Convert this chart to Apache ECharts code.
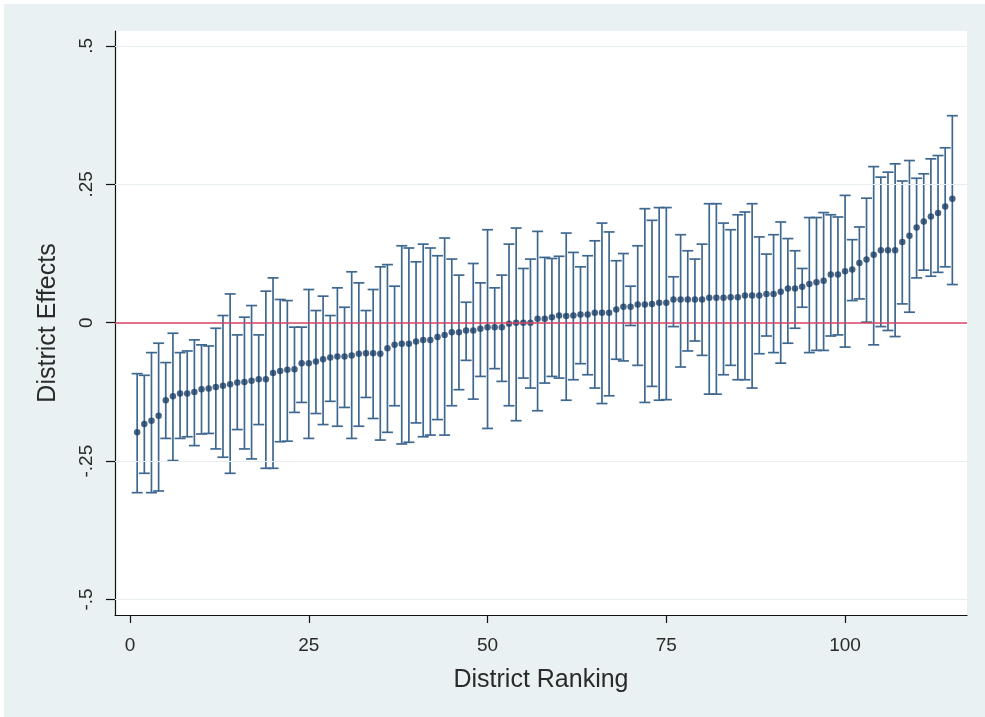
<!DOCTYPE html>
<html>
<head>
<meta charset="utf-8">
<script src="https://cdn.jsdelivr.net/npm/echarts@6/dist/echarts.min.js"></script>
<style>
  html, body { margin: 0; padding: 0; background: #fff; }
  #wrap { position: relative; width: 985px; height: 717px; overflow: hidden; }
  #district-chart { position: absolute; left: 4px; top: 4px; width: 981px; height: 713px; }
</style>
</head>
<body>
<div id="wrap"><div id="district-chart"></div></div>
<script>
'use strict';

// district effect estimates, ordered by rank (1..115)
var effects = [
  -0.198, -0.183, -0.177, -0.168, -0.140, -0.133, -0.128, -0.128, -0.125, -0.120,
  -0.119, -0.116, -0.114, -0.111, -0.108, -0.107, -0.105, -0.102, -0.102, -0.091,
  -0.087, -0.085, -0.084, -0.073, -0.073, -0.070, -0.066, -0.063, -0.061, -0.061,
  -0.059, -0.056, -0.055, -0.055, -0.056, -0.046, -0.040, -0.038, -0.038, -0.034,
  -0.031, -0.031, -0.026, -0.022, -0.017, -0.017, -0.014, -0.014, -0.011, -0.008,
  -0.008, -0.008, -0.002, 0.000, 0.000, 0.000, 0.007, 0.007, 0.010, 0.013,
  0.012, 0.013, 0.015, 0.015, 0.018, 0.018, 0.018, 0.024, 0.029, 0.029,
  0.033, 0.033, 0.034, 0.036, 0.036, 0.042, 0.042, 0.042, 0.042, 0.042,
  0.045, 0.045, 0.045, 0.046, 0.046, 0.049, 0.049, 0.049, 0.052, 0.052,
  0.056, 0.062, 0.062, 0.065, 0.070, 0.073, 0.076, 0.087, 0.087, 0.093,
  0.096, 0.108, 0.114, 0.123, 0.131, 0.131, 0.131, 0.146, 0.157, 0.172,
  0.183, 0.192, 0.198, 0.210, 0.224
];

var upper = [
  -0.092, -0.095, -0.054, -0.037, -0.072, -0.019, -0.054, -0.051, -0.031, -0.040,
  -0.042, -0.010, 0.013, 0.052, -0.022, 0.010, 0.031, -0.022, 0.057, 0.081,
  0.042, 0.040, -0.008, -0.008, 0.060, 0.022, 0.048, 0.013, 0.063, 0.028,
  0.092, 0.072, 0.022, 0.060, 0.101, 0.105, 0.066, 0.139, 0.135, 0.110,
  0.142, 0.135, 0.121, 0.153, 0.115, 0.086, 0.037, 0.107, 0.072, 0.168,
  0.063, 0.086, 0.142, 0.171, 0.098, 0.115, 0.165, 0.118, 0.116, 0.120,
  0.162, 0.127, 0.101, 0.121, 0.148, 0.180, 0.164, 0.112, 0.125, 0.066,
  0.139, 0.206, 0.185, 0.208, 0.208, 0.083, 0.159, 0.130, 0.115, 0.142,
  0.215, 0.215, 0.180, 0.168, 0.195, 0.200, 0.215, 0.155, 0.124, 0.159,
  0.182, 0.152, 0.130, 0.098, 0.190, 0.190, 0.199, 0.195, 0.191, 0.230,
  0.150, 0.173, 0.225, 0.282, 0.263, 0.272, 0.287, 0.256, 0.293, 0.261,
  0.269, 0.296, 0.302, 0.316, 0.374
];

var lower = [
  -0.307, -0.272, -0.307, -0.304, -0.209, -0.249, -0.209, -0.206, -0.222, -0.201,
  -0.200, -0.228, -0.243, -0.272, -0.193, -0.228, -0.246, -0.184, -0.263, -0.263,
  -0.215, -0.214, -0.162, -0.144, -0.209, -0.164, -0.184, -0.142, -0.187, -0.153,
  -0.209, -0.187, -0.135, -0.173, -0.212, -0.198, -0.150, -0.219, -0.216, -0.181,
  -0.206, -0.203, -0.175, -0.203, -0.150, -0.121, -0.068, -0.138, -0.097, -0.191,
  -0.083, -0.106, -0.150, -0.177, -0.100, -0.118, -0.159, -0.109, -0.097, -0.100,
  -0.140, -0.103, -0.074, -0.094, -0.118, -0.146, -0.132, -0.066, -0.069, -0.005,
  -0.077, -0.144, -0.115, -0.140, -0.139, -0.007, -0.080, -0.051, -0.033, -0.059,
  -0.129, -0.129, -0.094, -0.077, -0.103, -0.103, -0.118, -0.056, -0.024, -0.054,
  -0.073, -0.037, -0.010, 0.028, -0.054, -0.050, -0.050, -0.024, -0.022, -0.044,
  0.040, 0.043, 0.001, -0.040, -0.007, -0.014, -0.025, 0.034, 0.019, 0.081,
  0.095, 0.084, 0.091, 0.101, 0.069
];

var xTicks = [0, 25, 50, 75, 100];
var yTicks = [-0.5, -0.25, 0, 0.25, 0.5];
var yTickLabels = ['-.5', '-.25', '0', '.25', '.5'];

var FONT = "'Liberation Sans', Arial, sans-serif";
var BAR_COLOR = '#3f6890';
var DOT_COLOR = '#1a3f66';

var points = effects.map(function(v, i) { return [i + 1, v]; });
var bars = effects.map(function(v, i) { return [i + 1, lower[i], upper[i]]; });

function renderBar(params, api) {
  var x = api.value(0);
  var lo = api.coord([x, api.value(1)]);
  var hi = api.coord([x, api.value(2)]);
  var half = 5.5;
  var style = { stroke: BAR_COLOR, lineWidth: 1.7 };
  return {
    type: 'group',
    children: [
      { type: 'line', shape: { x1: hi[0], y1: hi[1], x2: lo[0], y2: lo[1] }, style: style },
      { type: 'line', shape: { x1: hi[0] - half, y1: hi[1], x2: hi[0] + half, y2: hi[1] }, style: style },
      { type: 'line', shape: { x1: lo[0] - half, y1: lo[1], x2: lo[0] + half, y2: lo[1] }, style: style }
    ]
  };
}

var gridLines = yTicks.filter(function(v) { return v !== 0; }).map(function(v) {
  return { yAxis: v, lineStyle: { color: '#e6eef1', width: 1.2, type: 'solid' } };
});
gridLines.push({ yAxis: 0, lineStyle: { color: '#d64565', width: 1.6, type: 'solid' } });

var myChart = echarts.init(document.getElementById('district-chart'));
myChart.setOption({
  backgroundColor: '#eaf1f3',
  animation: false,
  grid: {
    left: 111,
    top: 27,
    right: 18,
    bottom: 102,
    show: true,
    backgroundColor: '#fff',
    borderWidth: 0
  },
  xAxis: {
    type: 'value',
    min: -2.1,
    max: 117.05,
    name: 'District Ranking',
    nameLocation: 'middle',
    nameGap: 53,
    nameTextStyle: { fontFamily: FONT, fontSize: 25, color: '#2a2a2a' },
    axisLine: { show: true, onZero: false, lineStyle: { color: '#111', width: 1.2 } },
    axisTick: { show: true, length: 8, customValues: xTicks, lineStyle: { color: '#111', width: 1.2 } },
    axisLabel: { customValues: xTicks, margin: 21, fontFamily: FONT, fontSize: 19, color: '#2a2a2a' },
    splitLine: { show: false }
  },
  yAxis: {
    type: 'value',
    min: -0.528,
    max: 0.527,
    name: 'District Effects',
    nameLocation: 'middle',
    nameGap: 54,
    nameTextStyle: { fontFamily: FONT, fontSize: 25, color: '#2a2a2a' },
    axisLine: { show: true, onZero: false, lineStyle: { color: '#111', width: 1.2 } },
    axisTick: { show: true, length: 9, customValues: yTicks, lineStyle: { color: '#111', width: 1.2 } },
    axisLabel: {
      customValues: yTicks,
      rotate: 90,
      margin: 19,
      fontFamily: FONT,
      fontSize: 19,
      color: '#2a2a2a',
      formatter: function(v) { return yTickLabels[yTicks.indexOf(v)]; }
    },
    splitLine: { show: false }
  },
  series: [
    {
      type: 'line',
      data: [],
      z: 1,
      markLine: {
        silent: true,
        symbol: 'none',
        label: { show: false },
        data: gridLines
      }
    },
    {
      type: 'custom',
      z: 2,
      renderItem: renderBar,
      encode: { x: 0, y: [1, 2] },
      data: bars
    },
    {
      type: 'scatter',
      z: 3,
      symbol: 'circle',
      symbolSize: 6.5,
      itemStyle: { color: DOT_COLOR },
      data: points
    }
  ]
});
</script>
</body>
</html>
